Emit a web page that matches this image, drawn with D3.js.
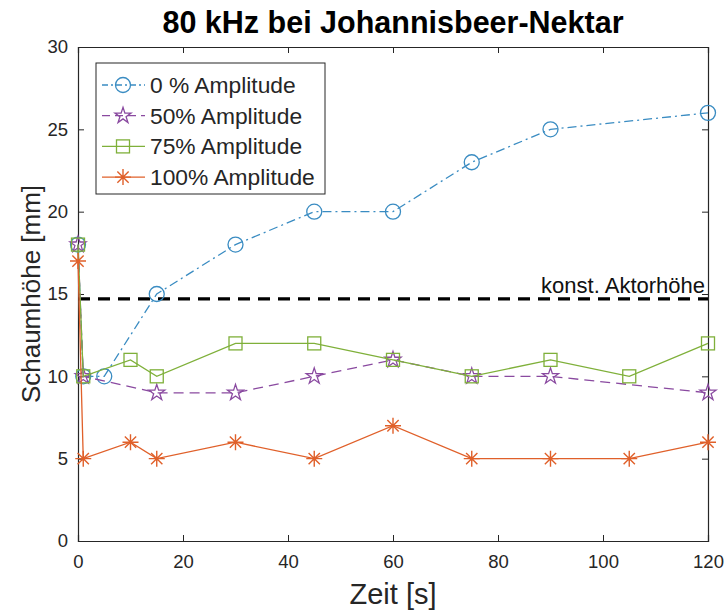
<!DOCTYPE html>
<html><head><meta charset="utf-8">
<script src="https://cdn.jsdelivr.net/npm/d3@7"></script>
<style>body{margin:0;background:#fff}svg{display:block}</style>
</head><body>
<script>
const title = "80 kHz bei Johannisbeer-Nektar";
const xLabel = "Zeit [s]";
const yLabel = "Schaumhöhe [mm]";
const xTicks = [0,20,40,60,80,100,120];
const yTicks = [0,5,10,15,20,25,30];
const refValue = 14.7;
const refLabel = "konst. Aktorhöhe";

const t0 = [0,1,5,15,30,45,60,75,90,120];
const v0 = [18,10,10,15,18,20,20,23,25,26];
const t50 = [0,1,15,30,45,60,75,90,120];
const v50 = [18,10,9,9,10,11,10,10,9];
const t75 = [0,1,10,15,30,45,60,75,90,105,120];
const v75 = [18,10,11,10,12,12,11,10,11,10,12];
const t100 = [0,1,10,15,30,45,60,75,90,105,120];
const v100 = [17,5,6,5,6,5,7,5,5,5,6];

const seriesNames = ["0 % Amplitude","50% Amplitude","75% Amplitude","100% Amplitude"];
const W=724,H=614;
const m={l:78,r:16,t:47,b:73};
const svg=d3.select("body").append("svg").attr("width",W).attr("height",H);
const x=d3.scaleLinear().domain([0,120]).range([m.l,W-m.r]);
const y=d3.scaleLinear().domain([0,30]).range([H-m.b,m.t]);

const series=[
 {name:seriesNames[0],t:t0,v:v0,color:"#3a8cc2",dash:"9,4,2,4",marker:"circle"},
 {name:seriesNames[1],t:t50,v:v50,color:"#8a4aa0",dash:"10,6",marker:"star"},
 {name:seriesNames[2],t:t75,v:v75,color:"#7fb03a",dash:null,marker:"square"},
 {name:seriesNames[3],t:t100,v:v100,color:"#e0602a",dash:null,marker:"asterisk"}
];

const font="'Liberation Sans', Arial, sans-serif";
const txt="#262626";

// ticks (inward, all sides)
const gAx=svg.append("g");
const xb=d3.axisBottom(x).tickValues(xTicks).tickSize(-6).tickPadding(14);
const xt=d3.axisTop(x).tickValues(xTicks).tickSize(-6).tickFormat("");
const yl=d3.axisLeft(y).tickValues(yTicks).tickSize(-6).tickPadding(10);
const yr=d3.axisRight(y).tickValues(yTicks).tickSize(-6).tickFormat("");
function style(g){g.select(".domain").attr("stroke","#262626").attr("stroke-width",1.2);
 g.selectAll(".tick line").attr("stroke","#262626");
 g.selectAll(".tick text").attr("fill",txt).attr("font-family",font).attr("font-size",18.5);}
gAx.append("g").attr("transform",`translate(0,${H-m.b})`).call(xb).call(style);
gAx.append("g").attr("transform",`translate(0,${m.t})`).call(xt).call(style);
gAx.append("g").attr("transform",`translate(${m.l},0)`).call(yl).call(style);
gAx.append("g").attr("transform",`translate(${W-m.r},0)`).call(yr).call(style);

// reference line
svg.append("line").attr("x1",x(0)).attr("x2",x(120)).attr("y1",y(refValue)).attr("y2",y(refValue))
 .attr("stroke","#000").attr("stroke-width",3.2).attr("stroke-dasharray","12,8");
svg.append("text").attr("x",x(120)-3).attr("y",y(refValue)-6).attr("text-anchor","end")
 .attr("font-family",font).attr("font-size",22).attr("fill","#111").text(refLabel);

function drawMarker(g,type,cx,cy,color){
 if(type==="circle") g.append("circle").attr("cx",cx).attr("cy",cy).attr("r",7.5).attr("fill","none").attr("stroke",color).attr("stroke-width",1.3);
 else if(type==="square") g.append("rect").attr("x",cx-6.5).attr("y",cy-6.5).attr("width",13).attr("height",13).attr("fill","none").attr("stroke",color).attr("stroke-width",1.3);
 else if(type==="star") g.append("path").attr("transform",`translate(${cx},${cy})`).attr("d",d3.symbol(d3.symbolStar,80)()).attr("fill","none").attr("stroke",color).attr("stroke-width",1.3);
 else if(type==="asterisk"){
  const r=8; const p=[];
  for(let i=0;i<4;i++){const a=i*Math.PI/4; p.push(`M${cx-r*Math.cos(a)},${cy-r*Math.sin(a)}L${cx+r*Math.cos(a)},${cy+r*Math.sin(a)}`);}
  g.append("path").attr("d",p.join("")).attr("stroke",color).attr("stroke-width",1.4).attr("fill","none");
 }
}

const line=d3.line().x(d=>x(d[0])).y(d=>y(d[1]));
series.forEach(s=>{
 const pts=s.t.map((t,i)=>[t,s.v[i]]);
 const g=svg.append("g");
 g.append("path").attr("d",line(pts)).attr("fill","none").attr("stroke",s.color).attr("stroke-width",1.3)
  .attr("stroke-dasharray",s.dash);
 pts.forEach(p=>drawMarker(g,s.marker,x(p[0]),y(p[1]),s.color));
});

// legend
const lg=svg.append("g");
lg.append("rect").attr("x",96).attr("y",63).attr("width",229).attr("height",131).attr("fill","#fff").attr("stroke","#262626").attr("stroke-width",1);
series.forEach((s,i)=>{
 const yy=85+i*30.7;
 lg.append("line").attr("x1",102).attr("x2",145).attr("y1",yy).attr("y2",yy).attr("stroke",s.color).attr("stroke-width",1.3).attr("stroke-dasharray",s.dash?(s.marker==="circle"?"6,3,2,3":"8,5"):null);
 drawMarker(lg,s.marker,123,yy,s.color);
 lg.append("text").attr("x",150).attr("y",yy+8).attr("font-family",font).attr("font-size",22.8).attr("fill",txt).text(s.name);
});

// title and labels
svg.append("text").attr("x",(x(0)+x(120))/2).attr("y",33).attr("text-anchor","middle")
 .attr("font-family",font).attr("font-weight","bold").attr("font-size",30.5).attr("fill","#000").text(title);
svg.append("text").attr("x",(x(0)+x(120))/2).attr("y",604).attr("text-anchor","middle")
 .attr("font-family",font).attr("font-size",29).attr("fill",txt).text(xLabel);
svg.append("text").attr("transform",`translate(40,${(y(0)+y(30))/2}) rotate(-90)`).attr("text-anchor","middle")
 .attr("font-family",font).attr("font-size",26).attr("fill",txt).text(yLabel);
</script>
</body></html>
